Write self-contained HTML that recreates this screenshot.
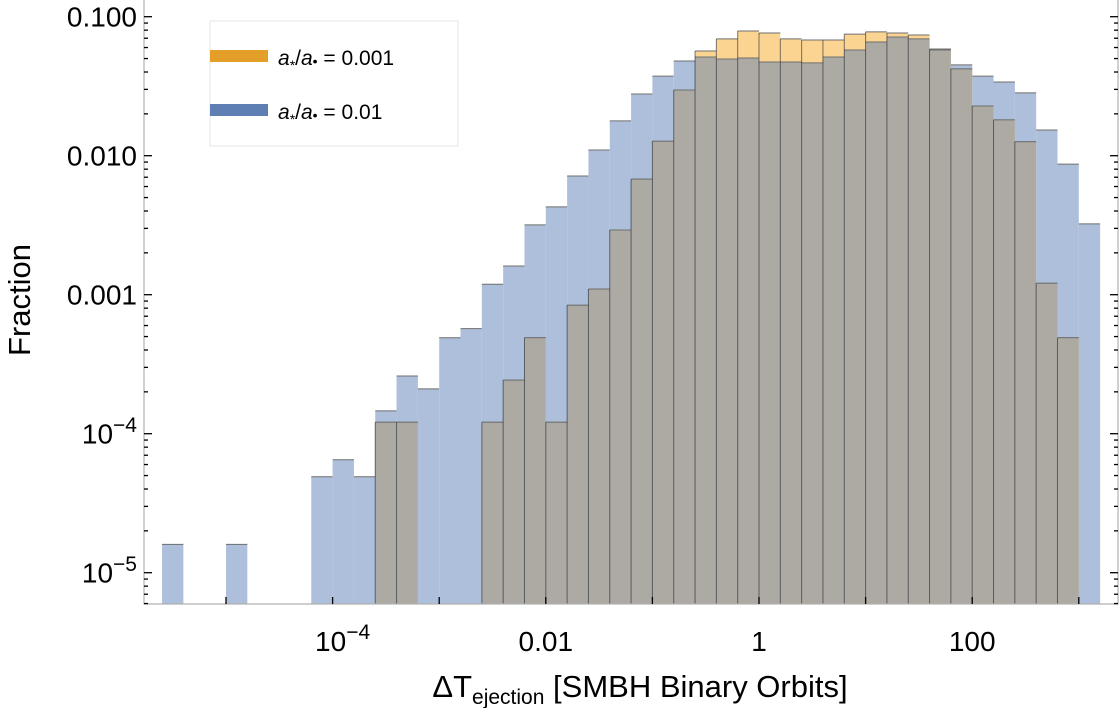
<!DOCTYPE html>
<html><head><meta charset="utf-8"><style>
html,body{margin:0;padding:0;background:#fff;}
svg{display:block;font-family:"Liberation Sans",Arial,sans-serif;}
</style></head><body>
<svg id="chart" width="1120" height="708" viewBox="0 0 1120 708" xmlns="http://www.w3.org/2000/svg">
<g id="bars"></g>
<g id="axes"></g>
<g id="legend">
  <rect x="210" y="21" width="248" height="125" fill="#fff" fill-opacity="0.85" stroke="#e6e6e6" stroke-width="1"/>
  <g>
    <rect x="210" y="50" width="58" height="12" fill="#e39f28"/>
    <text x="278" y="65" font-size="21" fill="#000"><tspan font-style="italic">a</tspan><tspan font-size="14" dy="5">*</tspan><tspan dy="-5">/</tspan><tspan font-style="italic">a</tspan><tspan font-size="14" dy="1">•</tspan><tspan dy="-1"> = 0.001</tspan></text>
  </g>
  <g>
    <rect x="210" y="104" width="58" height="12" fill="#5d7fb4"/>
    <text x="278" y="119" font-size="21" fill="#000"><tspan font-style="italic">a</tspan><tspan font-size="14" dy="5">*</tspan><tspan dy="-5">/</tspan><tspan font-style="italic">a</tspan><tspan font-size="14" dy="1">•</tspan><tspan dy="-1"> = 0.01</tspan></text>
  </g>
</g>
<text transform="translate(30,300) rotate(-90)" text-anchor="middle" font-size="31" fill="#000">Fraction</text>
<text x="640" y="697" text-anchor="middle" font-size="31" fill="#000">ΔT<tspan font-size="21" dy="7">ejection</tspan><tspan dy="-7"> [SMBH Binary Orbits]</tspan></text>
</svg>
<script>
// bin layout: log10 left edge of first bin and bin width (decades)
const binStart = -5.6;
const binWidth = 0.2;
// fraction per bin, a*/a = 0.01 (blue); null = empty
const blueValues = [1.6e-5,null,null,1.6e-5,null,null,null,4.9e-5,6.5e-5,4.9e-5,1.46e-4,2.6e-4,2.1e-4,4.9e-4,5.7e-4,1.19e-3,1.61e-3,3.18e-3,4.28e-3,7.14e-3,0.0110,0.0178,0.0278,0.0374,0.048,0.0513,0.0496,0.0505,0.0472,0.0472,0.0465,0.0513,0.0576,0.0658,0.0715,0.0692,0.0576,0.045,0.0374,0.0339,0.0283,0.0153,0.0087,0.00323];
// fraction per bin, a*/a = 0.001 (orange)
const orangeValues = [null,null,null,null,null,null,null,null,null,null,1.21e-4,1.21e-4,null,null,null,1.21e-4,2.43e-4,4.9e-4,1.21e-4,8.4e-4,1.10e-3,2.92e-3,6.78e-3,0.0127,0.0297,0.0566,0.0692,0.0789,0.0763,0.0692,0.068,0.068,0.075,0.0777,0.0763,0.0738,0.0586,0.0421,0.0228,0.0181,0.0126,1.21e-3,4.9e-4,null];
const xTickValues = [-4,-2,0,2];
const xTickLabels = ["10^-4","0.01","1","100"];
const yTickValues = [-1,-2,-3,-4,-5];
const yTickLabels = ["0.100","0.010","0.001","10^-4","10^-5"];

const NS = "http://www.w3.org/2000/svg";
const X0 = 759, XPD = 106.6;      // px of 10^0, px per decade
const Y0 = 16.7, YPD = 139;       // px of 10^-1
const PL = 144, PR = 1118, PB = 604, PT = 0;
function xs(lg){ return X0 + lg*XPD; }
function ys(v){ return Y0 + (-1 - Math.log10(v))*YPD; }
function mk(tag, attrs, parent){
  const e = document.createElementNS(NS, tag);
  for (const k in attrs) e.setAttribute(k, attrs[k]);
  parent.appendChild(e); return e;
}
const bars = document.getElementById('bars');
const axes = document.getElementById('axes');

function drawBar(i, v, fill, name){
  const x1 = xs(binStart + i*binWidth), x2 = xs(binStart + (i+1)*binWidth);
  const y = Math.max(PT, ys(v));
  const r = mk('rect', {x:x1, y:y, width:x2-x1, height:PB-y, fill:fill}, bars);
  
  
  const l = mk('line', {x1:x1, x2:x2, y1:y, y2:y, stroke:'#6f6f6f', 'stroke-width':1}, bars);
  
  
}
for (let i=0;i<blueValues.length;i++){
  if (blueValues[i]!=null) drawBar(i, blueValues[i], '#adbfda', 'bar-blue-'+i);
}
for (let i=0;i<orangeValues.length;i++){
  if (orangeValues[i]!=null) drawBar(i, orangeValues[i], '#fcd491', 'bar-orange-'+i);
}
for (let i=0;i<orangeValues.length;i++){
  const b = blueValues[i], o = orangeValues[i];
  if (b!=null && o!=null){
    const m = Math.min(b,o);
    const x1 = xs(binStart + i*binWidth), x2 = xs(binStart + (i+1)*binWidth);
    const y = ys(m);
    const r = mk('rect', {x:x1, y:y, width:x2-x1, height:PB-y, fill:'#acaaa3'}, bars);
    
    
    const l = mk('line', {x1:x1, x2:x2, y1:y, y2:y, stroke:'#6f6f6f', 'stroke-width':1}, bars);
    
    
  }
  if (o!=null){
    const x1 = xs(binStart + i*binWidth);
    const l = mk('line', {x1:x1, x2:x1, y1:ys(o), y2:PB, stroke:'#1e2530', 'stroke-width':1, 'stroke-opacity':0.6}, bars);
    
    
  }
}

// frame
const fr = mk('path', {d:`M${PL},${PT} V${PB} H${PR} V${PT}`, fill:'none', stroke:'#b0b0b0', 'stroke-width':1.2}, axes);



function label(x, y, txt, anchor, name, size){
  const t = mk('text', {x:x, y:y, 'text-anchor':anchor, 'font-size':size, fill:'#000'}, axes);
  
  
  if (txt.indexOf('^')>=0){
    const p = txt.split('^');
    const a = document.createElementNS(NS,'tspan'); a.textContent = p[0]; t.appendChild(a);
    const b = document.createElementNS(NS,'tspan'); b.textContent = p[1].replace('-','\u2212');
    b.setAttribute('font-size', size*0.75); b.setAttribute('dy', -size*0.42); t.appendChild(b);
  } else t.textContent = txt;
}

// y ticks
for (let d=-6; d<=0; d++){
  for (let m=1; m<=9; m++){
    const v = m*Math.pow(10,d);
    const y = ys(v);
    if (y<PT || y>PB) continue;
    const len = m===1 ? 8 : 4;
    const t1 = mk('line', {x1:PL, x2:PL+len, y1:y, y2:y, stroke:'#000', 'stroke-width':1.3}, axes);
    
    
    const t2 = mk('line', {x1:PR, x2:PR-len, y1:y, y2:y, stroke:'#000', 'stroke-width':1.3}, axes);
    
    
  }
}
for (let i=0;i<yTickValues.length;i++){
  const y = ys(Math.pow(10,yTickValues[i]));
  label(137, y+10, yTickLabels[i], 'end', 'y-tick-label', 28);
}
// x ticks
for (let d=-6; d<=4; d++){
  for (let m=1; m<=9; m++){
    const x = xs(d + Math.log10(m));
    if (x<PL || x>PR) continue;
    const len = m===1 ? 7 : 0;
    if (!len) continue;
    const t = mk('line', {x1:x, x2:x, y1:PB, y2:PB-len, stroke:'#000', 'stroke-width':1.3}, axes);
    
    
  }
}
for (let i=0;i<xTickValues.length;i++){
  const x = xs(xTickValues[i]);
  label(xTickLabels[i].indexOf('^')>=0 ? x+10 : x, 651, xTickLabels[i], 'middle', 'x-tick-label', 28);
}
</script>
</body></html>
